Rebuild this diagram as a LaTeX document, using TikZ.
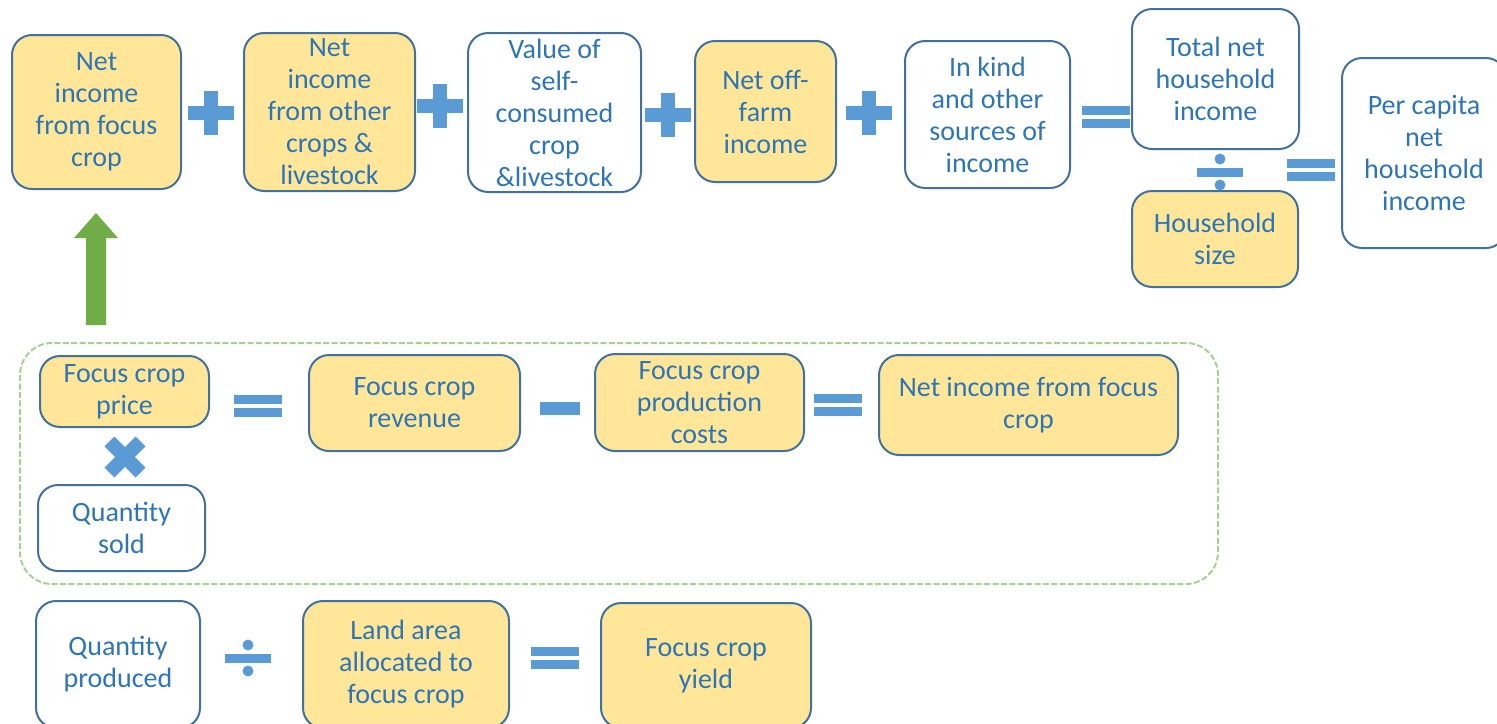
\documentclass[tikz,border=0pt]{standalone}
\usepackage{fontspec}
\setmainfont{Carlito}
\definecolor{boxfill}{HTML}{FFE699}
\definecolor{boxline}{HTML}{41719C}
\definecolor{txtblue}{HTML}{2E75B6}
\definecolor{opblue}{HTML}{5B9BD5}
\definecolor{arrgreen}{HTML}{70AD47}
\definecolor{dashgreen}{HTML}{A9D18E}
\tikzset{
  box/.style={draw=boxline, line width=1pt, rounded corners=10pt, inner sep=0pt,
    align=center, text=txtblue, font=\fontsize{14}{16}\selectfont},
  ybox/.style={box, fill=boxfill},
  wbox/.style={box, fill=white},
  sz/.style 2 args={minimum width=#1*0.5pt, minimum height=#2*0.5pt},
  plusop/.pic={\fill[opblue] (-23,-7) rectangle (23,7); \fill[opblue] (-7,-22) rectangle (7,22);},
  eqop/.pic={\fill[opblue] (-24,-11) rectangle (24,-2); \fill[opblue] (-24,2) rectangle (24,11);},
  minusop/.pic={\fill[opblue] (-20,-6.5) rectangle (20,6.5);},
  timesop/.pic={\begin{scope}[rotate=45]\fill[opblue] (-22,-7) rectangle (22,7); \fill[opblue] (-7,-22) rectangle (7,22);\end{scope}},
  divop/.pic={\fill[opblue] (-23,-4.5) rectangle (23,4.5); \fill[opblue] (0,-13) circle (5.5); \fill[opblue] (0,13) circle (5.5);},
}
\begin{document}
\begin{tikzpicture}[x=0.5pt,y=-0.5pt]
\useasboundingbox (0,0) rectangle (1497,723);
\clip (0,0) rectangle (1497,723);
% top row
\node[ybox, sz={169}{154}] (nf) at (96.5,112) {Net\\income\\from focus\\crop};
\node[ybox, sz={171}{158}] (no) at (329.5,112) {Net\\income\\from other\\crops \&\\livestock};
\node[wbox, sz={173}{159}] (vs) at (554.5,112.5) {Value of\\self-\\consumed\\crop\\\&livestock};
\node[ybox, sz={141}{141}] (off) at (765.5,111.5) {Net off-\\farm\\income};
\node[wbox, sz={165}{147}] (ik) at (987.5,114.5) {In kind\\and other\\sources of\\income};
\node[wbox, sz={167}{140}] (tn) at (1215.5,79) {Total net\\household\\income};
\node[ybox, sz={166}{96}] (hs) at (1215,239) {Household\\size};
\node[wbox, sz={164}{190}] (pc) at (1424,153) {Per capita\\net\\household\\income};
\pic at (211,113) {plusop};
\pic at (440,106) {plusop};
\pic at (668,115) {plusop};
\pic at (869,113) {plusop};
\pic at (1106,117) {eqop};
\pic at (1220,172) {divop};
\pic at (1311,170) {eqop};
% green arrow
\fill[arrgreen] (86,325) -- (86,238) -- (74,238) -- (96,213) -- (118,238) -- (106,238) -- (106,325) -- cycle;
% dashed group
\node[draw=dashgreen, line width=1pt, dash pattern=on 3pt off 1.2pt, rounded corners=16pt, inner sep=0pt, sz={1198}{241}] (grp) at (619,463.5) {};
\node[ybox, sz={169}{71}] (fp) at (124.5,391.5) {Focus crop\\price};
\node[wbox, sz={167}{86}] (qs) at (121.5,528) {Quantity\\sold};
\node[ybox, sz={211}{96}] (fr) at (414.5,403) {Focus crop\\revenue};
\node[ybox, sz={209}{97}] (fc) at (699.5,402.5) {Focus crop\\production\\costs};
\node[ybox, sz={299}{100}] (ni) at (1028.5,405) {Net income from focus\\crop};
\pic at (125,457) {timesop};
\pic at (258,406) {eqop};
\pic at (560,408) {minusop};
\pic at (838,405) {eqop};
% bottom row
\node[wbox, sz={164}{127}] (qp) at (118,664.5) {Quantity\\produced};
\node[ybox, sz={206}{127}] (la) at (406,664.5) {Land area\\allocated to\\focus crop};
\node[ybox, sz={210}{125}] (fy) at (706,665.5) {Focus crop\\yield};
\pic at (248,658) {divop};
\pic at (555,658) {eqop};
\end{tikzpicture}
\end{document}
